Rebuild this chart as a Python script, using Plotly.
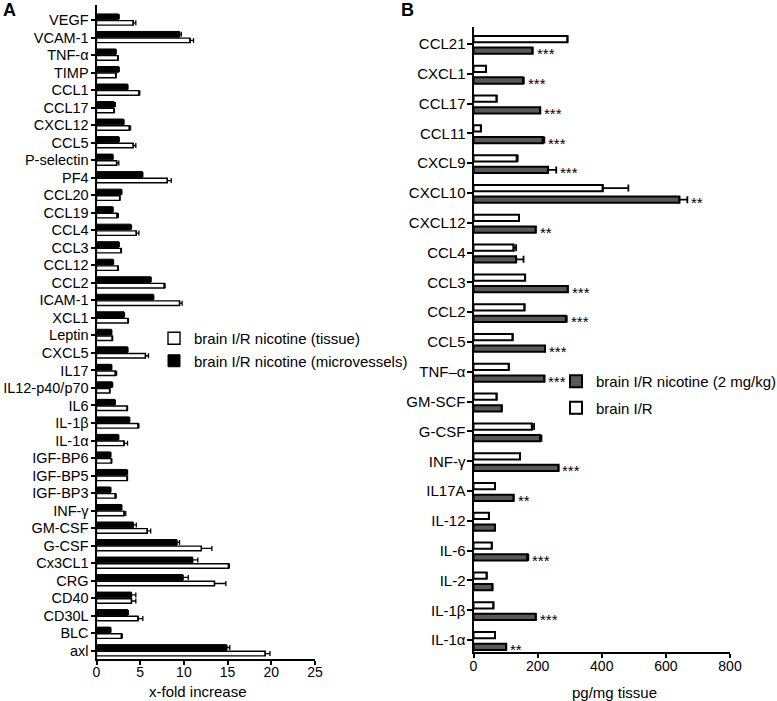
import plotly.graph_objects as go

# ---------------- Panel A data ----------------
a_cats = ["VEGF", "VCAM-1", "TNF-α", "TIMP", "CCL1", "CCL17", "CXCL12", "CCL5",
          "P-selectin", "PF4", "CCL20", "CCL19", "CCL4", "CCL3", "CCL12", "CCL2",
          "ICAM-1", "XCL1", "Leptin", "CXCL5", "IL17", "IL12-p40/p70", "IL6",
          "IL-1β", "IL-1α", "IGF-BP6", "IGF-BP5", "IGF-BP3", "INF-γ", "GM-CSF",
          "G-CSF", "Cx3CL1", "CRG", "CD40", "CD30L", "BLC", "axl"]
a_micro = [2.5, 9.5, 2.2, 2.55, 3.55, 2.0, 3.1, 2.55, 1.85, 5.25, 2.85, 1.85, 3.9,
           2.55, 1.9, 6.2, 6.5, 3.15, 1.7, 3.55, 1.7, 1.8, 2.1, 3.75, 2.5, 1.6,
           3.5, 1.6, 2.85, 4.2, 9.2, 11.0, 9.9, 4.0, 3.55, 1.6, 14.9]
a_micro_err = [0.1, 0.2, 0.05, 0.05, 0.05, 0.15, 0.05, 0.05, 0.05, 0.05, 0.05, 0.05,
               0.1, 0.05, 0.05, 0.05, 0.05, 0.05, 0.05, 0.05, 0.05, 0.05, 0.05, 0.05,
               0.05, 0.05, 0.05, 0.05, 0.05, 0.35, 0.3, 0.6, 0.6, 0.5, 0.1, 0.05, 0.35]
a_tissue = [4.2, 10.7, 2.45, 2.2, 4.85, 2.0, 3.75, 4.2, 2.3, 8.1, 2.65, 2.35, 4.55,
            2.8, 2.45, 7.75, 9.5, 3.6, 1.8, 5.6, 2.15, 1.5, 3.5, 4.75, 3.15, 1.7,
            3.5, 2.15, 3.15, 5.8, 12.0, 15.1, 13.5, 4.0, 4.75, 2.85, 19.3]
a_tissue_err = [0.3, 0.4, 0.05, 0.05, 0.1, 0.05, 0.15, 0.3, 0.25, 0.45, 0.05, 0.15,
                0.3, 0.05, 0.05, 0.1, 0.3, 0.05, 0.05, 0.35, 0.15, 0.05, 0.05, 0.1,
                0.4, 0.05, 0.05, 0.1, 0.2, 0.4, 1.2, 0.1, 1.3, 0.5, 0.55, 0.1, 0.55]
a_ticks = [0, 5, 10, 15, 20, 25]

# ---------------- Panel B data ----------------
b_cats = ["CCL21", "CXCL1", "CCL17", "CCL11", "CXCL9", "CXCL10", "CXCL12", "CCL4",
          "CCL3", "CCL2", "CCL5", "TNF–α", "GM-SCF", "G-CSF", "INF-γ", "IL17A",
          "IL-12", "IL-6", "IL-2", "IL-1β", "IL-1α"]
b_ir = [293, 39, 72, 23, 135, 403, 142, 125, 161, 159, 122, 110, 72, 182, 145, 67,
        48, 57, 41, 62, 67]
b_ir_err = [0, 0, 0, 0, 3, 80, 0, 8, 0, 0, 0, 0, 0, 7, 0, 0, 0, 0, 0, 0, 0]
b_nic = [184, 154, 208, 216, 232, 642, 194, 133, 294, 288, 223, 221, 88, 208, 265,
         125, 67, 168, 59, 194, 102]
b_nic_err = [0, 3, 0, 5, 26, 25, 0, 23, 0, 3, 0, 0, 0, 4, 0, 0, 0, 3, 0, 0, 0]
b_sig = ["***", "***", "***", "***", "***", "**", "**", "", "***", "***", "***",
         "***", "", "", "***", "**", "", "***", "", "***", "**"]
b_ticks = [0, 200, 400, 600, 800]

FONT = "Liberation Sans, Arial, Helvetica, sans-serif"
W, H = 777, 701

fig = go.Figure()

zeros_a = [0] * len(a_cats)
zeros_b = [0] * len(b_cats)

# Panel A traces
fig.add_trace(go.Bar(
    y=a_cats, x=a_micro, orientation="h", name="brain I/R nicotine (microvessels)",
    marker=dict(color="black", line=dict(color="black", width=1)),
    offset=-0.35, width=0.33,
    error_x=dict(type="data", array=a_micro_err, arrayminus=zeros_a, symmetric=False,
                 color="black", thickness=1.3, width=2.5),
    xaxis="x", yaxis="y", legend="legend", legendrank=2))
fig.add_trace(go.Bar(
    y=a_cats, x=a_tissue, orientation="h", name="brain I/R nicotine (tissue)",
    marker=dict(color="white", line=dict(color="black", width=1.4)),
    offset=0.03, width=0.26,
    error_x=dict(type="data", array=a_tissue_err, arrayminus=zeros_a, symmetric=False,
                 color="black", thickness=1.3, width=2.5),
    xaxis="x", yaxis="y", legend="legend", legendrank=1))

# Panel B traces
fig.add_trace(go.Bar(
    y=b_cats, x=b_ir, orientation="h", name="brain I/R",
    marker=dict(color="white", line=dict(color="black", width=2)),
    offset=-0.27, width=0.21,
    error_x=dict(type="data", array=b_ir_err, arrayminus=zeros_b, symmetric=False,
                 color="black", thickness=1.8, width=3.5),
    xaxis="x2", yaxis="y2", legend="legend2", legendrank=2, legendgroup="ir"))
fig.add_trace(go.Bar(
    y=b_cats, x=b_nic, orientation="h", name="brain I/R nicotine (2 mg/kg)",
    marker=dict(color="#595959", line=dict(color="black", width=2)),
    offset=0.12, width=0.21,
    error_x=dict(type="data", array=b_nic_err, arrayminus=zeros_b, symmetric=False,
                 color="black", thickness=1.8, width=3.5),
    xaxis="x2", yaxis="y2", legend="legend2", legendrank=1, legendgroup="nic"))

annotations = []
for i, s in enumerate(b_sig):
    if s:
        annotations.append(dict(
            x=b_nic[i] + b_nic_err[i], y=i + 0.225, xref="x2", yref="y2", text=s,
            showarrow=False, xanchor="left", yanchor="middle", xshift=2, yshift=-3,
            font=dict(family=FONT, size=15, color="black")))

# Panel letters and axis titles
annotations += [
    dict(text="<b>A</b>", x=1 / W, y=1, xref="paper", yref="paper",
         xanchor="left", yanchor="top", showarrow=False, yshift=2,
         font=dict(family=FONT, size=18, color="black")),
    dict(text="<b>B</b>", x=399 / W, y=1, xref="paper", yref="paper",
         xanchor="left", yanchor="top", showarrow=False, yshift=2,
         font=dict(family=FONT, size=18, color="black")),
    dict(text="x-fold increase", x=198 / W, y=1 - 691 / H, xref="paper", yref="paper",
         xanchor="center", yanchor="middle", showarrow=False,
         font=dict(family=FONT, size=15, color="black")),
    dict(text="pg/mg tissue", x=614 / W, y=1 - 692 / H, xref="paper", yref="paper",
         xanchor="center", yanchor="middle", showarrow=False,
         font=dict(family=FONT, size=15, color="black")),
]

axis_common = dict(showline=True, linecolor="black", linewidth=2, ticks="outside",
                   tickcolor="black", tickwidth=2, showgrid=False, zeroline=False,
                   automargin=False)

fig.update_layout(
    width=W, height=H, margin=dict(l=0, r=0, t=0, b=0, autoexpand=False),
    paper_bgcolor="white", plot_bgcolor="white", barmode="overlay",
    font=dict(family=FONT, color="black"),
    xaxis=dict(domain=[96.5 / W, 315 / W], range=[0, 25], tickvals=a_ticks,
               anchor="y", ticklen=4, ticklabelstandoff=-5,
               tickfont=dict(family=FONT, size=14, color="black"), **axis_common),
    yaxis=dict(domain=[(H - 659) / H, (H - 5) / H], type="category",
               categoryorder="array", categoryarray=a_cats,
               range=[36.47, -0.86], anchor="x", ticklen=4, ticklabelstandoff=-1,
               tickfont=dict(family=FONT, size=14.5, color="black"), **axis_common),
    xaxis2=dict(domain=[473.5 / W, 730 / W], range=[0, 800], tickvals=b_ticks,
                anchor="y2", ticklen=4, ticklabelstandoff=-4,
                tickfont=dict(family=FONT, size=14, color="black"), **axis_common),
    yaxis2=dict(domain=[(H - 651.7) / H, (H - 26.7) / H], type="category",
                categoryorder="array", categoryarray=b_cats,
                range=[20.39, -0.58], anchor="x2", ticklen=5, ticklabelstandoff=-2,
                tickfont=dict(family=FONT, size=15, color="black"), **axis_common),
    legend=dict(x=154 / W, y=1 - 322 / H, xanchor="left", yanchor="top",
                bgcolor="rgba(0,0,0,0)", font=dict(family=FONT, size=15, color="black"),
                itemwidth=30),
    legend2=dict(x=556 / W, y=1 - 365 / H, xanchor="left", yanchor="top",
                 bgcolor="rgba(0,0,0,0)", font=dict(family=FONT, size=15, color="black"),
                 itemwidth=30, tracegroupgap=4),
    annotations=annotations,
)

fig.write_html(
    "out.html",
    config={"displayModeBar": False},
    post_script="document.body.style.margin='0';document.body.style.overflow='hidden';",
)
